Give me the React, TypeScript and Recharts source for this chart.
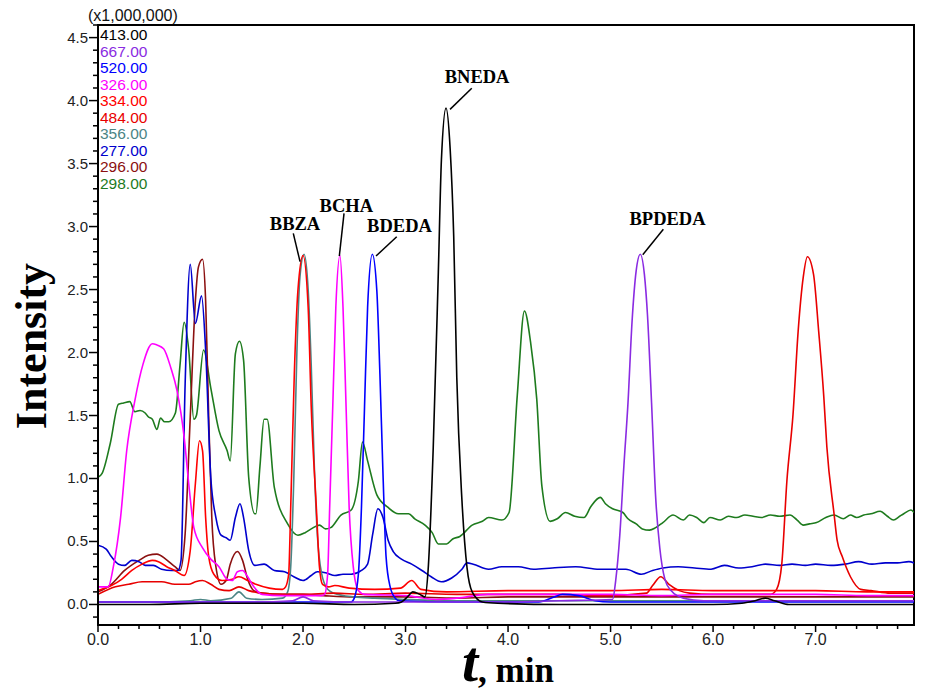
import React from 'react';
import { LineChart, Line, XAxis, YAxis, ReferenceLine, ReferenceDot, ReferenceArea } from 'recharts';

// ---- data: [time (min), intensity (x1,000,000)] ----
const s413: [number, number][] = [[0,0.0],[0.5,0.0],[1.0,0.01],[1.5,0.01],[2.0,0.01],[2.5,0.0],[2.9,0.01],[2.96,0.02],[3.03,0.07],[3.07,0.10],[3.14,0.08],[3.19,0.06],[3.22,0.27],[3.27,1.24],[3.32,2.64],[3.35,3.53],[3.395,3.94],[3.435,3.62],[3.47,2.92],[3.50,1.80],[3.55,0.83],[3.60,0.29],[3.65,0.10],[3.75,0.02],[3.9,0.01],[4.5,0.0],[5.0,0.0],[5.5,0.0],[6.0,0.0],[6.28,0.01],[6.41,0.03],[6.51,0.05],[6.60,0.03],[6.74,0.0],[7.5,0.0],[7.96,0.0]];
const s667: [number, number][] = [[0,0.02],[0.8,0.02],[1.5,0.02],[1.9,0.03],[2.0,0.06],[2.1,0.03],[2.5,0.02],[3.0,0.02],[3.5,0.02],[4.0,0.02],[4.5,0.03],[5.02,0.04],[5.05,0.19],[5.09,0.55],[5.13,1.1],[5.17,1.6],[5.21,2.25],[5.25,2.65],[5.29,2.78],[5.33,2.62],[5.36,2.3],[5.40,1.6],[5.44,0.85],[5.48,0.45],[5.53,0.2],[5.59,0.11],[5.71,0.05],[5.91,0.03],[6.5,0.03],[7.0,0.03],[7.96,0.03]];
const s520: [number, number][] = [[0,0.02],[1.0,0.02],[1.5,0.02],[2.3,0.02],[2.47,0.02],[2.50,0.05],[2.54,0.24],[2.57,0.77],[2.60,1.57],[2.63,2.36],[2.676,2.78],[2.72,2.49],[2.75,1.83],[2.78,1.04],[2.81,0.38],[2.85,0.14],[2.90,0.05],[2.94,0.03],[3.5,0.02],[4.3,0.02],[4.45,0.06],[4.53,0.08],[4.69,0.07],[4.85,0.03],[5.0,0.02],[6.0,0.02],[7.0,0.02],[7.96,0.02]];
const s326: [number, number][] = [[0,0.14],[0.10,0.14],[0.15,0.30],[0.22,0.69],[0.28,1.22],[0.36,1.62],[0.44,1.91],[0.53,2.07],[0.575,2.06],[0.64,2.03],[0.71,1.88],[0.77,1.70],[0.84,1.33],[0.885,0.96],[0.935,0.61],[1.02,0.45],[1.10,0.36],[1.18,0.30],[1.26,0.20],[1.31,0.19],[1.36,0.26],[1.41,0.27],[1.46,0.22],[1.52,0.14],[1.60,0.08],[1.8,0.07],[2.0,0.07],[2.18,0.07],[2.21,0.08],[2.24,0.24],[2.26,0.77],[2.29,1.57],[2.32,2.36],[2.36,2.77],[2.39,2.36],[2.42,1.57],[2.45,0.77],[2.49,0.30],[2.54,0.11],[2.60,0.08],[3.0,0.07],[3.3,0.04],[3.5,0.05],[3.8,0.08],[4.5,0.08],[5.0,0.08],[5.5,0.07],[6.0,0.08],[6.5,0.08],[7.0,0.08],[7.5,0.07],[7.96,0.07]];
const s334: [number, number][] = [[0,0.11],[0.13,0.15],[0.23,0.20],[0.33,0.27],[0.43,0.32],[0.53,0.35],[0.59,0.34],[0.67,0.30],[0.75,0.27],[0.84,0.23],[0.90,0.43],[0.95,0.96],[0.99,1.30],[1.02,1.22],[1.05,0.69],[1.08,0.38],[1.13,0.24],[1.21,0.19],[1.31,0.20],[1.375,0.22],[1.46,0.19],[1.54,0.16],[1.67,0.13],[1.80,0.12],[1.83,0.14],[1.86,0.24],[1.88,0.77],[1.915,1.83],[1.95,2.49],[2.0,2.77],[2.05,2.36],[2.08,1.57],[2.13,0.77],[2.16,0.30],[2.19,0.16],[2.25,0.14],[2.31,0.15],[2.45,0.13],[2.7,0.12],[2.95,0.13],[3.06,0.19],[3.15,0.12],[3.4,0.10],[4.0,0.11],[4.5,0.11],[5.0,0.11],[5.5,0.12],[6.0,0.11],[6.5,0.11],[7.0,0.11],[7.5,0.10],[7.96,0.10]];
const s484: [number, number][] = [[0,0.08],[0.17,0.14],[0.30,0.16],[0.43,0.18],[0.53,0.18],[0.62,0.18],[0.75,0.16],[0.885,0.16],[0.95,0.18],[1.02,0.19],[1.10,0.16],[1.18,0.12],[1.28,0.11],[1.375,0.14],[1.47,0.11],[1.6,0.09],[1.8,0.08],[2.0,0.08],[2.3,0.09],[2.6,0.08],[3.0,0.09],[3.5,0.08],[4.0,0.08],[4.5,0.08],[4.92,0.07],[5.35,0.09],[5.41,0.15],[5.49,0.22],[5.57,0.16],[5.67,0.11],[5.77,0.09],[6.0,0.08],[6.4,0.08],[6.56,0.08],[6.62,0.12],[6.67,0.32],[6.72,0.98],[6.78,1.51],[6.83,2.17],[6.88,2.60],[6.92,2.76],[6.98,2.62],[7.03,2.17],[7.08,1.65],[7.11,1.25],[7.18,0.72],[7.21,0.51],[7.26,0.38],[7.34,0.22],[7.44,0.12],[7.54,0.11],[7.73,0.09],[7.96,0.09]];
const s356: [number, number][] = [[0,0.02],[0.5,0.02],[0.9,0.03],[1.0,0.04],[1.1,0.03],[1.3,0.05],[1.375,0.10],[1.45,0.05],[1.6,0.04],[1.8,0.05],[1.85,0.10],[1.88,0.30],[1.91,1.0],[1.94,2.0],[1.97,2.6],[2.01,2.78],[2.05,2.5],[2.08,1.9],[2.11,1.1],[2.14,0.55],[2.18,0.25],[2.24,0.12],[2.3,0.09],[2.5,0.06],[2.7,0.05],[3.0,0.04],[3.5,0.03],[4.0,0.03],[5.0,0.03],[6.0,0.03],[7.0,0.03],[7.96,0.03]];
const s277: [number, number][] = [[0,0.47],[0.08,0.44],[0.13,0.38],[0.20,0.32],[0.26,0.31],[0.33,0.35],[0.40,0.34],[0.46,0.31],[0.54,0.31],[0.62,0.28],[0.72,0.27],[0.78,0.27],[0.81,0.35],[0.85,1.75],[0.90,2.70],[0.95,2.23],[1.01,2.45],[1.05,2.02],[1.10,1.01],[1.15,0.69],[1.20,0.55],[1.25,0.53],[1.29,0.51],[1.34,0.69],[1.385,0.80],[1.42,0.69],[1.47,0.43],[1.53,0.31],[1.62,0.32],[1.72,0.27],[1.82,0.26],[1.91,0.22],[2.0,0.19],[2.08,0.23],[2.14,0.26],[2.23,0.25],[2.31,0.23],[2.39,0.24],[2.47,0.24],[2.57,0.27],[2.63,0.32],[2.68,0.56],[2.73,0.76],[2.78,0.69],[2.83,0.51],[2.88,0.42],[2.96,0.36],[3.06,0.32],[3.16,0.27],[3.25,0.22],[3.35,0.18],[3.45,0.21],[3.55,0.28],[3.60,0.33],[3.66,0.32],[3.81,0.28],[3.94,0.30],[4.10,0.30],[4.25,0.28],[4.43,0.29],[4.66,0.30],[4.89,0.28],[5.15,0.28],[5.30,0.24],[5.41,0.27],[5.51,0.29],[5.66,0.30],[5.82,0.29],[5.98,0.28],[6.11,0.31],[6.25,0.29],[6.38,0.30],[6.51,0.32],[6.65,0.31],[6.77,0.32],[6.9,0.31],[7.0,0.32],[7.15,0.31],[7.29,0.32],[7.42,0.34],[7.55,0.32],[7.68,0.33],[7.8,0.33],[7.91,0.34],[7.96,0.33]];
const s296: [number, number][] = [[0,0.10],[0.13,0.16],[0.26,0.27],[0.40,0.35],[0.49,0.39],[0.575,0.40],[0.66,0.36],[0.75,0.30],[0.80,0.27],[0.85,0.56],[0.90,1.49],[0.95,2.41],[0.98,2.68],[1.02,2.74],[1.05,2.41],[1.08,1.49],[1.11,0.69],[1.15,0.30],[1.20,0.16],[1.25,0.19],[1.29,0.32],[1.36,0.42],[1.41,0.35],[1.46,0.20],[1.52,0.11],[1.6,0.09],[1.8,0.08],[2.0,0.08],[2.2,0.07],[2.5,0.06],[3.0,0.06],[3.5,0.05],[4.0,0.06],[5.0,0.06],[6.0,0.06],[7.0,0.06],[7.96,0.06]];
const s298: [number, number][] = [[0,1.01],[0.04,1.04],[0.12,1.28],[0.2,1.59],[0.25,1.60],[0.31,1.61],[0.36,1.53],[0.41,1.54],[0.46,1.52],[0.49,1.49],[0.53,1.47],[0.575,1.39],[0.61,1.48],[0.65,1.45],[0.69,1.45],[0.755,1.52],[0.80,1.9],[0.84,2.24],[0.885,2.02],[0.935,1.47],[0.96,1.50],[1.03,2.02],[1.1,1.72],[1.18,1.38],[1.26,1.22],[1.29,1.14],[1.34,1.99],[1.38,2.09],[1.42,1.94],[1.47,1.01],[1.53,0.72],[1.54,0.72],[1.58,1.1],[1.62,1.47],[1.65,1.47],[1.72,0.93],[1.85,0.64],[1.95,0.55],[2.02,0.57],[2.08,0.60],[2.16,0.63],[2.22,0.60],[2.27,0.61],[2.37,0.71],[2.47,0.75],[2.54,0.98],[2.58,1.29],[2.63,1.14],[2.72,0.87],[2.83,0.77],[2.93,0.72],[3.03,0.72],[3.09,0.68],[3.19,0.63],[3.26,0.57],[3.32,0.48],[3.40,0.48],[3.46,0.52],[3.53,0.54],[3.65,0.63],[3.75,0.66],[3.81,0.69],[3.94,0.67],[4.01,0.73],[4.09,1.66],[4.16,2.33],[4.22,2.08],[4.28,1.63],[4.33,0.94],[4.41,0.66],[4.48,0.68],[4.56,0.73],[4.65,0.70],[4.74,0.69],[4.81,0.78],[4.90,0.85],[4.95,0.80],[5.02,0.76],[5.12,0.73],[5.17,0.68],[5.25,0.64],[5.31,0.60],[5.38,0.59],[5.44,0.61],[5.51,0.65],[5.61,0.71],[5.71,0.67],[5.77,0.71],[5.84,0.69],[5.91,0.65],[5.97,0.69],[6.07,0.67],[6.15,0.70],[6.23,0.69],[6.31,0.71],[6.39,0.70],[6.47,0.69],[6.56,0.71],[6.65,0.70],[6.75,0.71],[6.82,0.67],[6.88,0.63],[6.94,0.64],[7.01,0.65],[7.1,0.69],[7.18,0.71],[7.27,0.68],[7.34,0.71],[7.40,0.69],[7.47,0.71],[7.54,0.72],[7.63,0.74],[7.70,0.70],[7.76,0.67],[7.82,0.70],[7.86,0.72],[7.93,0.75],[7.96,0.73]];

// legend order (as listed in the chart) and colours
const traceNames = ['413.00', '667.00', '520.00', '326.00', '334.00', '484.00', '356.00', '277.00', '296.00', '298.00'];
const traceColors = ['#000000', '#8a2be2', '#0000ff', '#ff00ff', '#ff0000', '#e80000', '#4b8585', '#0000cd', '#8b1010', '#1e7b1e'];
const traceData = [s413, s667, s520, s326, s334, s484, s356, s277, s296, s298];
// drawing order (bottom first)
const drawOrder = [9, 8, 7, 6, 5, 4, 3, 2, 1, 0];

// axis ticks
const xMajorTicks = [0, 1, 2, 3, 4, 5, 6, 7];
const xTickLabels = ['0.0', '1.0', '2.0', '3.0', '4.0', '5.0', '6.0', '7.0'];
const yMajorTicks = [0, 0.5, 1, 1.5, 2, 2.5, 3, 3.5, 4, 4.5];
const yTickLabels = ['0.0', '0.5', '1.0', '1.5', '2.0', '2.5', '3.0', '3.5', '4.0', '4.5'];
const xDomain: [number, number] = [0, 7.96];
const yDomain: [number, number] = [-0.163, 4.6];

// peak annotations: label, text anchor (t, v), leader line from -> to
const peakLabels = ['BBZA', 'BCHA', 'BDEDA', 'BNEDA', 'BPDEDA'];
const labelPos: [number, number][] = [[1.922, 2.972], [2.422, 3.117], [2.941, 2.959], [3.698, 4.139], [5.556, 3.012]];
const leaderFrom: [number, number][] = [[1.905, 2.946], [2.4, 3.105], [2.914, 2.919], [3.646, 4.098], [5.515, 2.978]];
const leaderTo: [number, number][] = [[1.971, 2.721], [2.354, 2.766], [2.712, 2.766], [3.434, 3.93], [5.314, 2.776]];

const xAllTicks: number[] = [];
for (let i = 0; i < 40; i++) xAllTicks.push(Math.round(i * 2) / 10);
const yAllTicks: number[] = [];
for (let i = -1; i <= 46; i++) yAllTicks.push(Math.round(i) / 10);

const sans = "Arial, 'Liberation Sans', sans-serif";
const narrow = "'Liberation Sans Narrow', 'Arial Narrow', Arial, 'Liberation Sans', sans-serif";
const serif = "'Times New Roman', 'Liberation Serif', serif";

const YTick = (props: any) => {
  const { x, y, payload } = props;
  const v = payload.value;
  const idx = yMajorTicks.findIndex((m) => Math.abs(m - v) < 1e-6);
  const major = idx >= 0;
  return (
    <g>
      <line x1={x} x2={x - (major ? 9 : 5)} y1={y} y2={y} stroke="#000" strokeWidth={1.5} />
      {major && (
        <text x={x - 10} y={y + 5} textAnchor="end" fontSize={15} fontFamily={sans} fill="#222">
          {yTickLabels[idx]}
        </text>
      )}
    </g>
  );
};

const XTick = (props: any) => {
  const { x, y, payload } = props;
  const v = payload.value;
  const idx = xMajorTicks.findIndex((m) => Math.abs(m - v) < 1e-6);
  const major = idx >= 0;
  return (
    <g>
      <line x1={x} x2={x} y1={y} y2={y + (major ? 7 : 4)} stroke="#000" strokeWidth={1.5} />
      {major && (
        <text x={x} y={y + 20} textAnchor="middle" fontSize={16} fontFamily={narrow} fill="#222">
          {xTickLabels[idx]}
        </text>
      )}
    </g>
  );
};

const toPts = (arr: [number, number][]) => arr.map(([t, v]) => ({ t, v }));

export default function App() {
  return (
    <div style={{ position: 'absolute', left: 0, top: 0, width: 933, height: 699, background: '#fff' }}>
      <LineChart width={933} height={699} margin={{ top: 25, right: 19, bottom: 44, left: 38 }}>
        <XAxis
          dataKey="t"
          type="number"
          domain={xDomain}
          allowDataOverflow
          ticks={xAllTicks}
          interval={0}
          tickSize={0}
          tickMargin={0}
          tickLine={false}
          axisLine={{ stroke: '#000', strokeWidth: 2 }}
          tick={<XTick />}
          height={30}
        />
        <YAxis
          type="number"
          domain={yDomain}
          allowDataOverflow
          ticks={yAllTicks}
          interval={0}
          tickSize={0}
          tickMargin={0}
          tickLine={false}
          axisLine={{ stroke: '#000', strokeWidth: 2 }}
          tick={<YTick />}
          width={60}
        />
        <ReferenceArea
          x1={xDomain[0]}
          x2={xDomain[1]}
          y1={yDomain[0]}
          y2={yDomain[1]}
          fill="none"
          fillOpacity={0}
          stroke="#000"
          strokeWidth={2}
          ifOverflow="visible"
        />
        {drawOrder.map((i) => (
          <Line
            key={traceNames[i]}
            name={traceNames[i]}
            data={toPts(traceData[i])}
            dataKey="v"
            type="monotone"
            stroke={traceColors[i]}
            strokeWidth={1.6}
            dot={false}
            activeDot={false}
            isAnimationActive={false}
          />
        ))}
        {peakLabels.map((lab, i) => (
          <ReferenceLine
            key={'ld' + lab}
            segment={[
              { x: leaderFrom[i][0], y: leaderFrom[i][1] },
              { x: leaderTo[i][0], y: leaderTo[i][1] },
            ]}
            stroke="#000"
            strokeWidth={1.5}
            ifOverflow="visible"
          />
        ))}
        {peakLabels.map((lab, i) => (
          <ReferenceDot
            key={'lb' + lab}
            x={labelPos[i][0]}
            y={labelPos[i][1]}
            r={0}
            ifOverflow="visible"
            shape={(p: any) => (
              <text x={p.cx} y={p.cy} textAnchor="middle" fontSize={18.5} fontWeight="bold" fontFamily={serif} fill="#000">
                {lab}
              </text>
            )}
          />
        ))}
      </LineChart>
      <svg width={933} height={699} style={{ position: 'absolute', left: 0, top: 0, pointerEvents: 'none' }}>
        <text x={88} y={21} fontSize={16} fontFamily={sans} fill="#111">(x1,000,000)</text>
        {traceNames.map((n, i) => (
          <text key={n} x={100} y={40 + i * 16.5} fontSize={15.5} fontFamily={sans} fill={traceColors[i]}>
            {n}
          </text>
        ))}
        <text x={46} y={346} transform="rotate(-90 46 346)" textAnchor="middle" fontSize={44} fontWeight="bold" fontFamily={serif} fill="#000">
          Intensity
        </text>
        <text x={462} y={681} fontStyle="italic" fontSize={58} fontWeight="bold" fontFamily={serif} fill="#000">t</text>
        <text x={478} y={682} fontSize={35} fontWeight="bold" fontFamily={serif} fill="#000">, min</text>
      </svg>
    </div>
  );
}
